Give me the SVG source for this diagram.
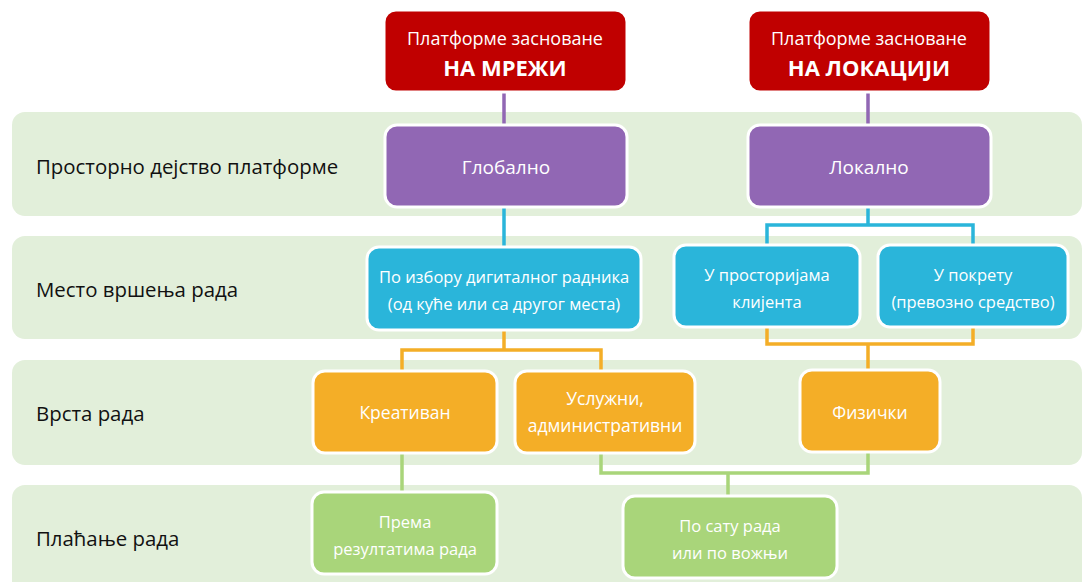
<svg xmlns="http://www.w3.org/2000/svg" width="1082" height="582" viewBox="0 0 1082 582">
<style>
.band{fill:#E2EFDA}
.lbl{font-family:"Open Sans","Noto Sans",sans-serif;font-size:20.4px;fill:#111}
.node rect{stroke:#fff;stroke-width:3}
.node text{font-family:"Open Sans","Noto Sans",sans-serif;font-size:16.5px;fill:#fff;text-anchor:middle}
.red rect{fill:#C00000}
.red text{font-size:18px}
.pur rect{fill:#9167B4}
.pur text{font-size:19px}
.blu rect{fill:#2AB5DA}
.org rect{fill:#F4AE27}
.org text{font-size:17.5px}
.grn rect{fill:#A9D57A}
.red text.b{font-weight:bold;font-size:22px}
.c{fill:none;stroke-width:3.5}
</style>
<g id="bands">
<rect class="band" x="12" y="112" width="1070" height="104" rx="13"/>
<rect class="band" x="12" y="236" width="1070" height="103" rx="13"/>
<rect class="band" x="12" y="360" width="1070" height="105" rx="13"/>
<rect class="band" x="12" y="485" width="1070" height="110" rx="13"/>
<text class="lbl" x="36" y="174">Просторно дејство платформе</text>
<text class="lbl" x="36" y="297">Место вршења рада</text>
<text class="lbl" x="36" y="421">Врста рада</text>
<text class="lbl" x="36" y="546">Плаћање рада</text>
</g>
<g id="connectors">
<path class="c" stroke="#9167B4" d="M504 92V125M868 92V125"/>
<path class="c" stroke="#2AB5DA" d="M504 207V247M868 207V225M767 245V225H973V245"/>
<path class="c" stroke="#F4AE27" d="M504 330V350M402 371V350H601V371M767 327V344H973V327M868 344V370"/>
<path class="c" stroke="#A9D57A" d="M402 452V492M601 452V473H868V452M728 473V496"/>
</g>
<g id="n1" class="node red"><rect x="384" y="10" width="243" height="82" rx="12"/><text x="505" y="45">Платформе засноване</text><text class="b" x="505" y="76">НА МРЕЖИ</text></g>
<g id="n2" class="node red"><rect x="748" y="10" width="243" height="82" rx="12"/><text x="869" y="45">Платформе засноване</text><text class="b" x="869" y="76">НА ЛОКАЦИЈИ</text></g>
<g id="n3" class="node pur"><rect x="385" y="125" width="242" height="82" rx="12"/><text x="506" y="174">Глобално</text></g>
<g id="n4" class="node pur"><rect x="748" y="125" width="243" height="82" rx="12"/><text x="869" y="174">Локално</text></g>
<g id="n5" class="node blu"><rect x="367" y="247" width="274" height="83" rx="12"/><text x="504" y="283">По избору дигиталног радника</text><text x="504" y="310">(од куће или са другог места)</text></g>
<g id="n6" class="node blu"><rect x="674" y="245" width="186" height="82" rx="12"/><text x="767" y="281">У просторијама</text><text x="767" y="308">клијента</text></g>
<g id="n7" class="node blu"><rect x="878" y="245" width="190" height="82" rx="12"/><text x="973" y="281">У покрету</text><text x="973" y="308">(превозно средство)</text></g>
<g id="n8" class="node org"><rect x="313" y="371" width="184" height="82" rx="12"/><text x="405" y="419">Креативан</text></g>
<g id="n9" class="node org"><rect x="515" y="371" width="180" height="82" rx="12"/><text x="605" y="405">Услужни,</text><text x="605" y="432">административни</text></g>
<g id="n10" class="node org"><rect x="800" y="370" width="140" height="82" rx="12"/><text x="870" y="419">Физички</text></g>
<g id="n11" class="node grn"><rect x="312" y="492" width="185" height="82" rx="12"/><text x="405" y="528">Према</text><text x="405" y="555">резултатима рада</text></g>
<g id="n12" class="node grn"><rect x="623" y="496" width="214" height="82" rx="12"/><text x="730" y="532">По сату рада</text><text x="730" y="559">или по вожњи</text></g>
</svg>
